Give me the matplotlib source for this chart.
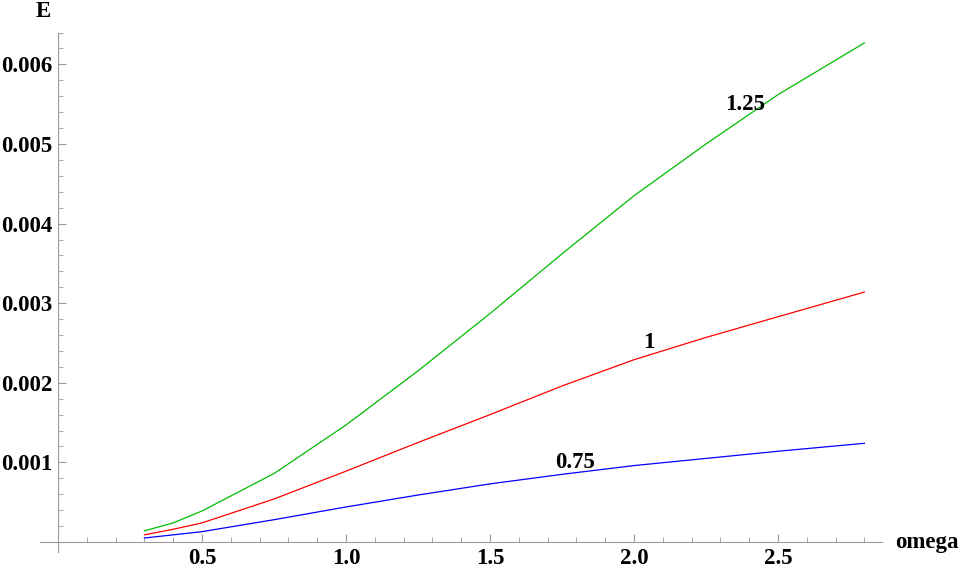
import matplotlib.pyplot as plt
from matplotlib.ticker import FixedLocator

## data
omega = [0.3, 0.4, 0.5, 0.75, 1.0, 1.25, 1.5, 1.75, 2.0, 2.25, 2.5, 2.8]
e_075 = [0.00005, 0.00009, 0.00013, 0.00028, 0.00044, 0.00059, 0.00073, 0.00085, 0.00096, 0.00105, 0.00114, 0.00124]
e_100 = [0.00009, 0.00016, 0.00024, 0.00054, 0.00089, 0.00125, 0.00160, 0.00196, 0.00229, 0.00257, 0.00283, 0.00314]
e_125 = [0.00014, 0.00024, 0.00039, 0.00086, 0.00147, 0.00215, 0.00287, 0.00362, 0.00435, 0.00500, 0.00562, 0.00627]

curve_labels = ['0.75', '1', '1.25']
label_pos = [(1.795, 0.00100), (2.05, 0.00251), (2.385, 0.00550)]
colors = ['#0000ff', '#ff0000', '#00bb00']

x_ticks = [0.5, 1.0, 1.5, 2.0, 2.5]
x_ticklabels = ['0.5', '1.0', '1.5', '2.0', '2.5']
y_ticks = [0.001, 0.002, 0.003, 0.004, 0.005, 0.006]
y_ticklabels = ['0.001', '0.002', '0.003', '0.004', '0.005', '0.006']

plt.rcParams['font.family'] = ['Liberation Serif', 'DejaVu Serif']
plt.rcParams['font.weight'] = 'bold'
FS = 16.5

fig = plt.figure(figsize=(9.6, 5.72), dpi=100)
ax = fig.add_axes([0, 0, 1, 1])

for y, c in zip([e_075, e_100, e_125], colors):
    ax.plot(omega, y, color=c, lw=0.9)

for txt, (x, y) in zip(curve_labels, label_pos):
    ax.text(x, y, txt, fontsize=FS, fontweight='bold', ha='center', va='center')

# pixel mapping: x=0 at px 58, 288 px per unit; y=0 at px 542, 79600 px per unit
ax.set_xlim(-58 / 288, (960 - 58) / 288)
ax.set_ylim((542 - 572) / 79600, 542 / 79600)

ax.spines['top'].set_visible(False)
ax.spines['right'].set_visible(False)
ax.spines['left'].set_position(('data', 0))
ax.spines['bottom'].set_position(('data', 0))
ax.spines['left'].set_bounds(-0.000125, 0.0064)
ax.spines['bottom'].set_bounds(-0.0625, 2.86)
for s in ['left', 'bottom']:
    ax.spines[s].set_color('#999999')
    ax.spines[s].set_linewidth(0.8)

ax.xaxis.set_major_locator(FixedLocator(x_ticks))
ax.xaxis.set_minor_locator(FixedLocator([i / 10 for i in range(0, 29)]))
ax.yaxis.set_major_locator(FixedLocator(y_ticks))
ax.yaxis.set_minor_locator(FixedLocator([i * 0.0002 for i in range(0, 33)]))
ax.set_xticklabels(x_ticklabels)
ax.set_yticklabels(y_ticklabels)
ax.tick_params(which='major', direction='in', length=6, width=0.8, color='#999999',
               labelsize=FS, pad=4)
ax.tick_params(which='minor', direction='in', length=3.5, width=0.6, color='#999999')
for lab in ax.get_xticklabels() + ax.get_yticklabels():
    lab.set_fontweight('bold')

ax.text(-0.05, 0.00667, 'E', fontsize=FS, fontweight='bold', ha='center', va='center')
ax.text(2.906, -0.00001, 'omega', fontsize=FS, fontweight='bold', ha='left', va='center')

fig.savefig('out.png', dpi=100)
